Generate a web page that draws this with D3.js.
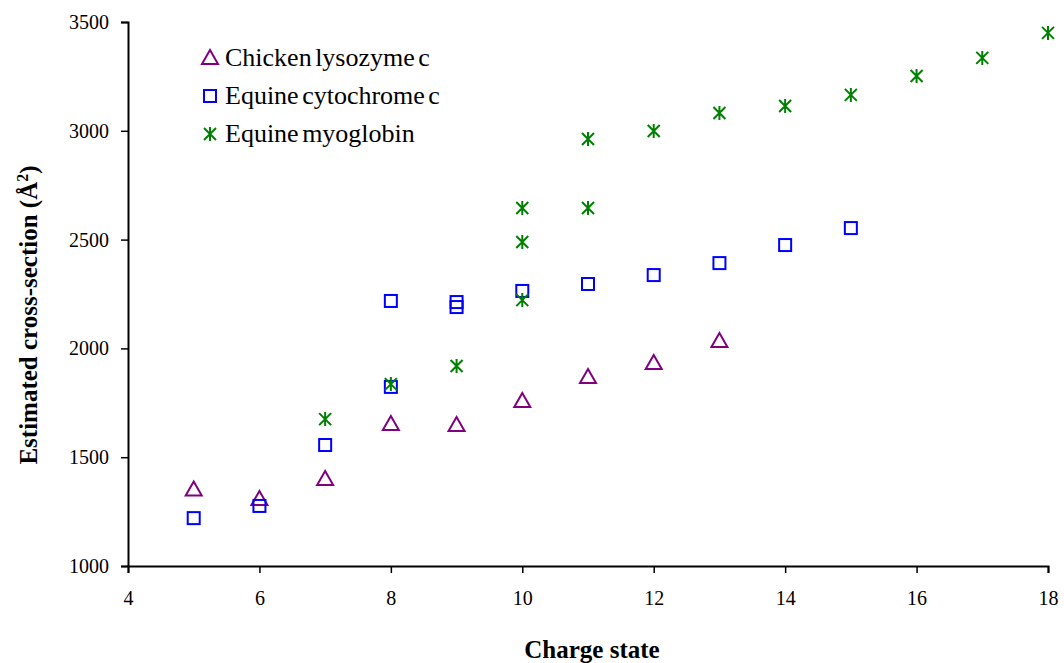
<!DOCTYPE html>
<html>
<head>
<meta charset="utf-8">
<script src="https://cdn.jsdelivr.net/npm/d3@7"></script>
<style>
  body { margin: 0; background: #fff; }
</style>
</head>
<body>
<svg id="chart"></svg>
<script>
const width = 1064, height = 663;
const serif = "'Liberation Serif', 'Times New Roman', Times, serif";

// charge states and cross-sections (Å²)
const lysozymeX = [5, 6, 7, 8, 9, 10, 11, 12, 13];
const lysozymeY = [1352, 1308, 1400, 1653, 1648, 1758, 1869, 1933, 2034];

const cytochromeX = [5, 6, 7, 8, 8, 9, 9, 10, 11, 12, 13, 14, 15];
const cytochromeY = [1220, 1276, 1556, 1823, 2218, 2213, 2190, 2264, 2296, 2337, 2392, 2475, 2553];

const myoglobinX = [7, 8, 9, 10, 10, 10, 11, 11, 12, 13, 14, 15, 16, 17, 18];
const myoglobinY = [1675, 1836, 1919, 2222, 2489, 2645, 2645, 2962, 2999, 3082, 3114, 3165, 3252, 3335, 3450];

const xTicks = [4, 6, 8, 10, 12, 14, 16, 18];
const yTicks = [1000, 1500, 2000, 2500, 3000, 3500];

const series = [
  { name: "Chicken lysozyme c", xs: lysozymeX, ys: lysozymeY, color: "#800080", shape: "triangle" },
  { name: "Equine cytochrome c", xs: cytochromeX, ys: cytochromeY, color: "#0000ff", shape: "square" },
  { name: "Equine myoglobin", xs: myoglobinX, ys: myoglobinY, color: "#008000", shape: "asterisk" }
];

const margin = { left: 128, right: 16, top: 22, bottom: 97 };

const svg = d3.select("#chart")
    .attr("width", width)
    .attr("height", height)
    .style("font-family", serif);

const x = d3.scaleLinear().domain([4, 18]).range([margin.left, width - margin.right]);
const y = d3.scaleLinear().domain([1000, 3500]).range([height - margin.bottom, margin.top]);

// axes
const xAxis = svg.append("g")
    .attr("transform", `translate(0,${height - margin.bottom})`)
    .call(d3.axisBottom(x).tickValues(xTicks).tickSize(7).tickPadding(18).tickFormat(d3.format("d")));
const yAxis = svg.append("g")
    .attr("transform", `translate(${margin.left},0)`)
    .call(d3.axisLeft(y).tickValues(yTicks).tickSize(7).tickPadding(12).tickFormat(d3.format("d")));

[xAxis, yAxis].forEach(a => {
  a.attr("font-family", null).attr("font-size", null);
  a.select(".domain").attr("stroke", "#000").attr("stroke-width", 2);
  a.selectAll(".tick line").attr("stroke", "#000").attr("stroke-width", 1.5);
  a.selectAll(".tick text")
    .attr("fill", "#000")
    .style("font-family", serif)
    .style("font-size", "20px");
});

// axis titles
svg.append("text")
    .attr("x", 592)
    .attr("y", 658)
    .attr("text-anchor", "middle")
    .style("font-family", serif)
    .style("font-size", "25px")
    .style("font-weight", "bold")
    .text("Charge state");

const yTitle = svg.append("text")
    .attr("transform", "translate(37,315) rotate(-90)")
    .attr("text-anchor", "middle")
    .style("font-family", serif)
    .style("font-size", "25px")
    .style("font-weight", "bold");
yTitle.append("tspan").text("Estimated cross-section (Å");
yTitle.append("tspan").attr("dy", -9).style("font-size", "16px").text("2");
yTitle.append("tspan").attr("dy", 9).text(")");

// marker drawing
function drawMarker(g, shape, color) {
  if (shape === "triangle") {
    g.append("path").attr("d", "M0,-8L8,6L-8,6Z")
      .attr("fill", "none").attr("stroke", color).attr("stroke-width", 2);
  } else if (shape === "square") {
    g.append("rect").attr("x", -6).attr("y", -6).attr("width", 12).attr("height", 12)
      .attr("fill", "none").attr("stroke", color).attr("stroke-width", 2);
  } else {
    g.append("path").attr("d", "M-6,-6L6,6M-6,6L6,-6M0,-7L0,7")
      .attr("fill", "none").attr("stroke", color).attr("stroke-width", 2);
  }
}

series.forEach(s => {
  s.xs.forEach((cx, i) => {
    const g = svg.append("g")
        .attr("transform", `translate(${x(cx)},${y(s.ys[i])})`);
    drawMarker(g, s.shape, s.color);
  });
});

// legend
const legend = svg.append("g").attr("transform", "translate(210,58)");
series.forEach((s, i) => {
  const row = legend.append("g").attr("transform", `translate(0,${i * 38})`);
  drawMarker(row, s.shape, s.color);
  row.append("text")
      .attr("x", 15)
      .attr("y", 8)
      .style("font-family", serif)
      .style("font-size", "26px")
      .style("word-spacing", "-3px")
      .text(s.name);
});
</script>
</body>
</html>
